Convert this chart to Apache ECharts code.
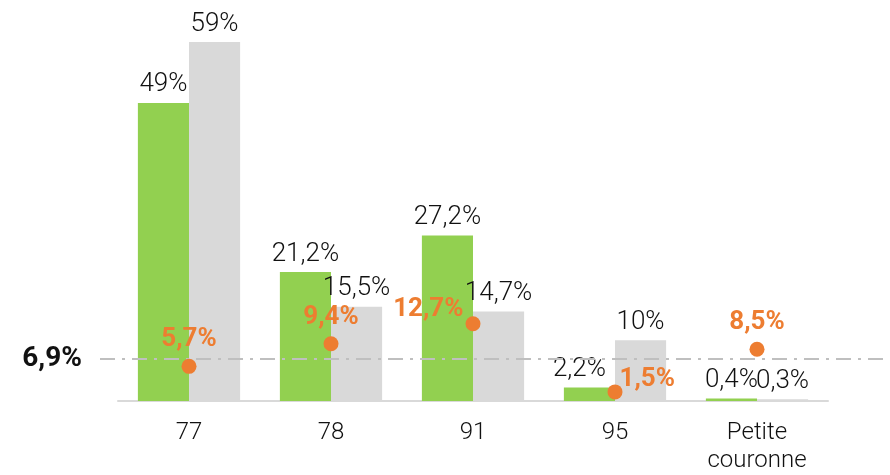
<!DOCTYPE html>
<html>
<head>
<meta charset="utf-8">
<script src="https://cdn.jsdelivr.net/npm/echarts@6/dist/echarts.min.js"></script>
<style>
  html, body { margin: 0; padding: 0; background: #fff; }
  #chart { width: 890px; height: 475px; }
</style>
</head>
<body>
<div id="chart"></div>
<script>
const categories = ['77', '78', '91', '95', 'Petite\ncouronne']
const greenValues = [49, 21.2, 27.2, 2.2, 0.4]
const greyValues = [59, 15.5, 14.7, 10, 0.3]
const orangeValues = [5.7, 9.4, 12.7, 1.5, 8.5]
const refValue = 6.9

const fontFamily = 'Roboto, "Noto Sans", sans-serif'

function pct(v) {
  return String(v).replace('.', ',') + '%'
}

// where the orange labels sit around their dot
const orangeLabelPos = [
  { position: 'top', distance: 6 },
  { position: 'top', distance: 6 },
  { position: 'left', offset: [3, -14] },
  { position: 'right', offset: [-8, -12] },
  { position: 'top', distance: 6 }
]

const barLabel = {
  show: true,
  position: 'top',
  distance: 5,
  color: '#111',
  fontFamily: fontFamily,
  fontWeight: 300,
  fontSize: 26,
  formatter: p => pct(p.value)
}

const chart = echarts.init(document.getElementById('chart'))
chart.setOption({
  animation: false,
  grid: { left: 118, right: 62, top: 36, bottom: 68 },
  xAxis: {
    type: 'category',
    data: categories,
    axisLine: { lineStyle: { color: '#d9d9d9', width: 2 } },
    axisTick: { show: false },
    axisLabel: {
      color: '#111',
      fontFamily: fontFamily,
      fontWeight: 300,
      fontSize: 24,
      lineHeight: 28,
      margin: 18
    }
  },
  yAxis: {
    type: 'value',
    min: 0,
    max: 60,
    show: false,
    splitLine: { show: false }
  },
  series: [
    {
      type: 'bar',
      data: greenValues.map((v, i) => (i === 3 ? { value: v, label: { offset: [-10, 0] } } : v)),
      barWidth: '36%',
      barGap: '0%',
      itemStyle: { color: '#92d050' },
      label: barLabel
    },
    {
      type: 'bar',
      data: greyValues,
      barWidth: '36%',
      itemStyle: { color: '#d9d9d9' },
      label: barLabel
    },
    {
      type: 'scatter',
      symbolSize: 15,
      z: 5,
      itemStyle: { color: '#ed7d31', opacity: 1 },
      data: orangeValues.map((v, i) => ({
        value: v,
        label: Object.assign({}, orangeLabelPos[i])
      })),
      label: {
        show: true,
        color: '#ed7d31',
        fontFamily: fontFamily,
        fontSize: 26,
        fontWeight: 'bold',
        formatter: p => pct(p.value)
      }
    }
  ]
})

// reference line across the whole width, with its value on the left
const refY = chart.convertToPixel({ yAxisIndex: 0 }, refValue)
chart.setOption({
  graphic: [
    {
      type: 'line',
      z: 3,
      shape: { x1: 100, y1: refY, x2: 890, y2: refY },
      style: { stroke: '#bfbfbf', lineWidth: 2, lineDash: [15, 7, 3, 7] }
    },
    {
      type: 'text',
      x: 82,
      y: refY,
      style: {
        text: pct(refValue),
        fill: '#111',
        font: 'bold 28px ' + fontFamily,
        align: 'right',
        verticalAlign: 'middle'
      }
    }
  ]
})
</script>
</body>
</html>
